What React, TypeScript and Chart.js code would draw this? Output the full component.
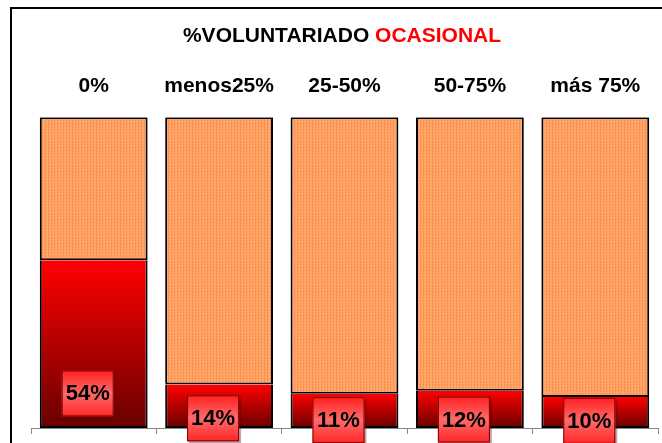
import React, { useEffect, useRef } from "react";
import { Chart, registerables } from "chart.js";

Chart.register(...registerables);

const categories = ["0%", "menos25%", "25-50%", "50-75%", "más 75%"];
const ocasional = [54, 14, 11, 12, 10];
const resto = [46, 86, 89, 88, 90];
const titleBlack = "%VOLUNTARIADO ";
const titleRed = "OCASIONAL";

const FONT = "'Liberation Sans', Arial, sans-serif";

function makePattern(): CanvasPattern | string {
  const c = document.createElement("canvas");
  c.width = 3;
  c.height = 3;
  const g = c.getContext("2d");
  if (!g) return "#FF9F5F";
  g.fillStyle = "#FFA262";
  g.fillRect(0, 0, 3, 3);
  g.fillStyle = "#F58A4A";
  g.fillRect(0, 0, 1, 2);
  g.fillStyle = "#FFB37A";
  g.fillRect(2, 1, 1, 1);
  const p = g.createPattern(c, "repeat");
  return p || "#FF9F5F";
}

const framePlugin = {
  id: "frameTitle",
  afterDraw(chart: any) {
    const ctx = chart.ctx;
    ctx.save();
    ctx.strokeStyle = "#000";
    ctx.lineWidth = 2;
    ctx.beginPath();
    ctx.moveTo(11, 443);
    ctx.lineTo(11, 8);
    ctx.lineTo(662, 8);
    ctx.stroke();
    ctx.font = `bold 21px ${FONT}`;
    ctx.textBaseline = "middle";
    ctx.textAlign = "left";
    const w1 = ctx.measureText(titleBlack).width;
    const w2 = ctx.measureText(titleRed).width;
    const x0 = 342 - (w1 + w2) / 2;
    ctx.fillStyle = "#000";
    ctx.fillText(titleBlack, x0, 36);
    ctx.fillStyle = "#FF0000";
    ctx.fillText(titleRed, x0 + w1, 36);
    ctx.restore();
  },
};

const labelPlugin = {
  id: "boxLabels",
  afterDatasetsDraw(chart: any) {
    const ctx = chart.ctx;
    const meta = chart.getDatasetMeta(0);
    const ys = chart.scales.y;
    ctx.save();
    meta.data.forEach((bar: any, i: number) => {
      const v = ocasional[i];
      const cx = bar.x - 6;
      const cy = ys.getPixelForValue(v * 0.2) - 1;
      const w = 52;
      const h = 46;
      const x = cx - w / 2;
      const y = cy - h / 2;
      ctx.fillStyle = "rgba(80,0,0,0.35)";
      ctx.fillRect(x + 2, y + 2, w, h);
      const g = ctx.createLinearGradient(0, y, 0, y + h);
      g.addColorStop(0, "#FF2020");
      g.addColorStop(0.5, "#FF6A6A");
      g.addColorStop(1, "#FF2626");
      ctx.fillStyle = g;
      ctx.fillRect(x, y, w, h);
      ctx.strokeStyle = "#7A0000";
      ctx.lineWidth = 1;
      ctx.strokeRect(x + 0.5, y + 0.5, w - 1, h - 1);
      ctx.fillStyle = "#000";
      ctx.font = `bold 22px ${FONT}`;
      ctx.textAlign = "center";
      ctx.textBaseline = "middle";
      ctx.fillText(`${v}%`, cx, cy + 1);
    });
    ctx.restore();
  },
};

export default function App() {
  const ref = useRef<HTMLCanvasElement | null>(null);
  useEffect(() => {
    if (!ref.current) return;
    const pattern = makePattern();
    const chart = new Chart(ref.current, {
      type: "bar",
      data: {
        labels: categories,
        datasets: [
          {
            label: "Ocasional",
            data: ocasional,
            backgroundColor: (context: any) => {
              const ch = context.chart;
              const ys = ch.scales && ch.scales.y;
              if (!ch.chartArea || !ys || context.dataIndex === undefined) return "#FF0000";
              const v = ocasional[context.dataIndex];
              const top = ys.getPixelForValue(v);
              const base = ys.getPixelForValue(0);
              const g = ch.ctx.createLinearGradient(0, top, 0, base);
              g.addColorStop(0, "#FF0000");
              g.addColorStop(1, "#680000");
              return g;
            },
            borderColor: "#000",
            borderWidth: 2,
            borderSkipped: "top",
            xAxisID: "x",
            barPercentage: 0.86,
            categoryPercentage: 1,
          },
          {
            label: "Resto",
            data: resto,
            backgroundColor: pattern as any,
            borderColor: "#000",
            borderWidth: 2,
            borderSkipped: false,
            xAxisID: "x",
            barPercentage: 0.86,
            categoryPercentage: 1,
          },
        ],
      },
      options: {
        animation: false,
        responsive: true,
        maintainAspectRatio: false,
        layout: { padding: { top: 56, left: 31, right: 4, bottom: 9 } },
        plugins: {
          legend: { display: false },
          title: { display: false },
          tooltip: { enabled: false },
        },
        scales: {
          x: {
            type: "category",
            position: "bottom",
            stacked: true,
            offset: true,
            grid: {
              display: true,
              offset: true,
              drawOnChartArea: false,
              drawTicks: true,
              tickLength: 6,
              color: "#888",
            },
            border: { display: true, color: "#888", width: 1 },
            ticks: { display: false },
          },
          x2: {
            type: "category",
            position: "top",
            offset: true,
            grid: { display: false, drawTicks: false },
            border: { display: false },
            ticks: {
              color: "#000",
              font: { family: FONT, size: 21, weight: "bold" },
              padding: 18,
              maxRotation: 0,
              autoSkip: false,
            },
          },
          y: {
            stacked: true,
            min: 0,
            max: 100,
            display: false,
          },
        },
      },
      plugins: [framePlugin, labelPlugin],
    });
    return () => chart.destroy();
  }, []);
  return (
    <div style={{ position: "fixed", left: 0, top: 0, width: 662, height: 443, background: "#fff" }}>
      <canvas ref={ref} />
    </div>
  );
}
